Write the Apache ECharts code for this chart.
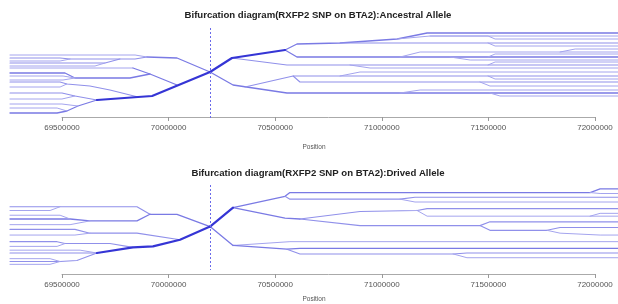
<!DOCTYPE html>
<html><head><meta charset="utf-8">
<script src="https://cdn.jsdelivr.net/npm/echarts@6/dist/echarts.min.js"></script>
<style>html,body{margin:0;padding:0;background:#fff}#c{width:618px;height:304px}</style>
</head><body><div id="c"></div>
<script>
// ---- data ----
const titles = [
  'Bifurcation diagram(RXFP2 SNP on BTA2):Ancestral Allele',
  'Bifurcation diagram(RXFP2 SNP on BTA2):Drived Allele'
];
const axisTitle = 'Position';
const tickLabels = [69500000, 70000000, 70500000, 71000000, 71500000, 72000000];
const corePosKb = 70195;              // focal SNP position (kb)
const positionRangeKb = [69256, 72110]; // extent of the haplotype lines (kb)
// each branch: [haplotype count, pos(kb), level, pos(kb), level, ...]
const ancestralBranches = [
  [12, 70195,44, 69923,68, 69857,69, 69664,72],
  [4, 69664,72, 69575,78, 69523,83, 69477,85, 69256,85],
  [3, 69857,69, 69725,62, 69631,58, 69523,56, 69491,54, 69256,54],
  [1, 69523,56, 69491,59, 69256,59],
  [2, 69664,72, 69561,68, 69500,65, 69256,65],
  [1, 69561,68, 69500,71, 69256,71],
  [1, 69575,78, 69500,76, 69256,76],
  [1, 69523,83, 69477,80, 69256,80],
  [6, 70195,44, 70040,30, 69899,29],
  [1, 69899,29, 69843,27, 69256,27],
  [3, 69899,29, 69843,31, 69538,31, 69491,30, 69256,30],
  [1, 69538,31, 69491,33, 69256,33],
  [2, 69772,31, 69702,35, 69256,35],
  [1, 69702,35, 69655,38, 69256,38],
  [6, 70040,57, 69913,46, 69833,40],
  [1, 69833,40, 69256,40],
  [4, 69913,46, 69819,50, 69561,50, 69514,45, 69256,45],
  [1, 69561,50, 69505,48, 69256,48],
  [1, 69561,50, 69505,52, 69256,52],
  [12, 70195,44, 70298,30, 70547,22],
  [5, 70547,22, 70603,16, 70805,15, 71073,11, 71214,5, 72110,5],
  [1, 71073,11, 71228,8, 72110,8],
  [1, 71228,8, 71500,8, 71533,11, 72110,11],
  [2, 70805,15, 71500,15, 72110,15],
  [1, 71500,15, 71533,18, 72110,18],
  [4, 70547,22, 70603,29, 72110,29],
  [1, 71087,29, 71181,24, 72110,24],
  [1, 71500,29, 71533,26, 72110,26],
  [1, 71838,24, 71909,21, 72110,21],
  [1, 71322,29, 71416,32, 72110,32],
  [3, 70298,30, 70556,37, 72110,37],
  [1, 70852,37, 70946,40, 72110,40],
  [1, 71500,37, 71533,34, 72110,34],
  [6, 70195,44, 70303,57, 70556,65, 72110,65],
  [1, 71509,65, 71556,68, 72110,68],
  [1, 71087,65, 71181,62, 72110,62],
  [3, 70359,59, 70585,48, 72110,48],
  [1, 70805,48, 70899,44, 72110,44],
  [1, 71500,48, 71533,51, 72110,51],
  [2, 70585,48, 70617,54, 72110,54],
  [1, 71462,54, 71509,58, 72110,58]
];
const derivedBranches = [
  [12, 70195,44, 70054,58, 69927,65, 69833,66, 69664,72],
  [3, 69664,72, 69491,72, 69256,72],
  [3, 69664,72, 69570,80, 69491,81, 69256,81],
  [1, 69491,81, 69444,78, 69256,78],
  [1, 69491,81, 69444,84, 69256,84],
  [1, 69664,72, 69585,69, 69256,69],
  [3, 69833,66, 69725,62, 69514,62, 69477,60, 69256,60],
  [1, 69514,62, 69477,65, 69256,65],
  [6, 70195,44, 70040,31, 69913,31],
  [2, 69913,31, 69852,23, 69256,23],
  [1, 69491,23, 69444,27, 69256,27],
  [4, 69913,31, 69852,38, 69631,38, 69538,36, 69256,36],
  [1, 69538,36, 69491,32, 69256,32],
  [1, 69631,38, 69538,42, 69256,42],
  [3, 70054,58, 69852,51, 69631,51, 69561,47, 69256,47],
  [1, 69631,51, 69561,53, 69256,53],
  [10, 70195,44, 70303,24],
  [4, 70303,24, 70547,12, 70570,8, 71979,8, 72026,4, 72110,4],
  [1, 71979,8, 72026,9, 72110,9],
  [2, 70547,12, 70570,15, 71087,15, 71157,13, 72110,13],
  [1, 71087,15, 71157,18, 72110,18],
  [6, 70303,24, 70547,35, 70617,36],
  [3, 70617,36, 70899,28, 71167,27, 71214,25, 72110,25],
  [1, 71167,27, 71214,33, 72110,33],
  [1, 71979,33, 72026,30, 72110,30],
  [3, 70617,36, 70899,43, 71462,43, 71509,39, 72110,39],
  [2, 71462,43, 71509,48, 71777,48, 71838,45, 72110,45],
  [1, 71777,48, 71838,51, 72026,53, 72110,53],
  [5, 70195,44, 70303,64],
  [1, 70303,64, 70570,60, 72110,60],
  [4, 70303,64, 70556,68, 70617,67, 72110,67],
  [2, 70556,68, 70617,73, 71336,73, 71401,72, 72110,72],
  [1, 71336,73, 71401,77, 72110,77]
];

// ---- layout / style ----
const panels = [
  {branches: ancestralBranches, title: titles[0], titleY: 15, top: 28, axisY: 117},
  {branches: derivedBranches, title: titles[1], titleY: 173, top: 185, axisY: 274}
];
const levelMax = 90;
function widthOf(n){ return n >= 10 ? 2.2 : n >= 4 ? 1.3 : n >= 2 ? 1.1 : 1; }
function colorOf(n){ return n >= 10 ? '#3535d5' : n >= 4 ? '#7a7ae4' : n >= 2 ? '#9090ea' : '#a4a4ee'; }

const grid = [], xAxis = [], yAxis = [], series = [], graphic = [];
panels.forEach((p, i) => {
  const gData = i * 2, gAxis = i * 2 + 1;
  grid.push({left: 10, right: 0, top: p.top, height: levelMax});
  grid.push({left: 62, right: 23, top: p.axisY - 1, height: 1});
  xAxis.push({gridIndex: gData, type: 'value', min: positionRangeKb[0] * 1000, max: positionRangeKb[1] * 1000,
    axisLine: {show: false}, axisTick: {show: false}, axisLabel: {show: false}, splitLine: {show: false},
    name: axisTitle, nameLocation: 'middle', nameGap: p.axisY - p.top - levelMax + 27,
    nameTextStyle: {fontFamily: 'Liberation Sans', fontSize: 6.5, color: '#555'}});
  xAxis.push({gridIndex: gAxis, type: 'value', min: tickLabels[0], max: tickLabels[tickLabels.length - 1],
    interval: tickLabels[1] - tickLabels[0],
    axisLine: {show: true, lineStyle: {color: '#aaa', width: 1}},
    axisTick: {show: true, length: 4, lineStyle: {color: '#999'}},
    axisLabel: {show: true, margin: 7, fontFamily: 'Liberation Sans', fontSize: 8, color: '#555', formatter: v => String(v)},
    splitLine: {show: false}});
  yAxis.push({gridIndex: gData, type: 'value', min: 0, max: levelMax, inverse: true, show: false});
  yAxis.push({gridIndex: gAxis, type: 'value', min: 0, max: 1, show: false});
  p.branches.forEach((b, k) => {
    const n = b[0], pts = [];
    for (let j = 1; j < b.length; j += 2) pts.push([b[j] * 1000, b[j + 1]]);
    const s = {type: 'line', xAxisIndex: gData, yAxisIndex: gData, data: pts, showSymbol: false, symbol: 'none',
      silent: true, z: n >= 10 ? 3 : 2,
      lineStyle: {width: widthOf(n), color: colorOf(n), cap: 'round', join: 'round'}};
    if (k === 0) s.markLine = {silent: true, symbol: 'none', label: {show: false},
      lineStyle: {type: [2, 2], color: '#6a6aea', width: 1}, data: [{xAxis: corePosKb * 1000}]};
    series.push(s);
  });
  graphic.push({type: 'text', x: 318, y: p.titleY, style: {text: p.title, textAlign: 'center', textVerticalAlign: 'middle',
    font: 'bold 9.6px "Liberation Sans"', fill: '#222'}});
});

const chart = echarts.init(document.getElementById('c'), null, {renderer: 'canvas'});
chart.setOption({animation: false, grid, xAxis, yAxis, series, graphic});
</script></body></html>
